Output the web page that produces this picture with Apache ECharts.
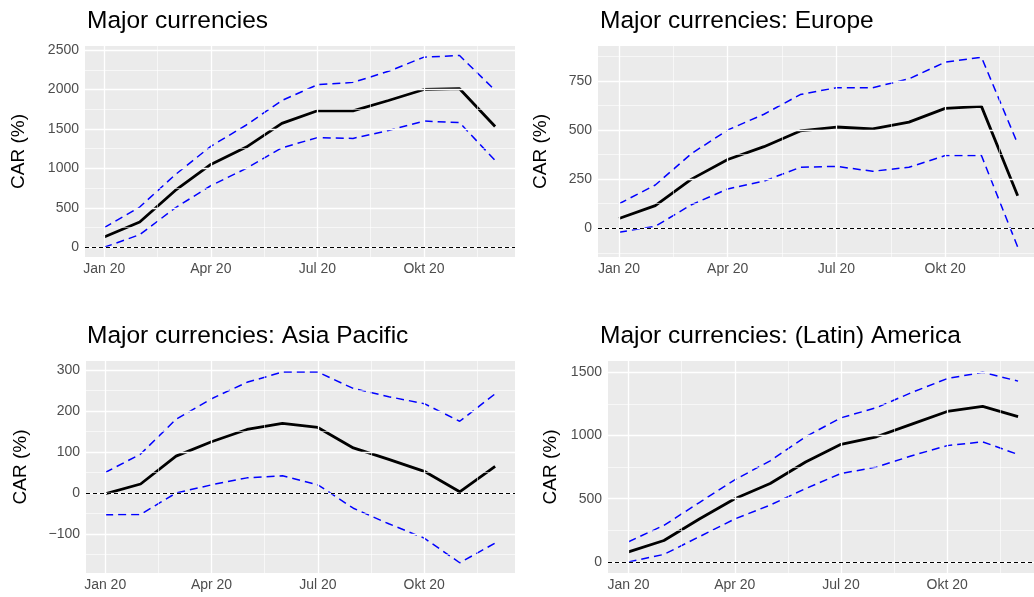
<!DOCTYPE html>
<html><head><meta charset="utf-8">
<script src="https://cdn.jsdelivr.net/npm/echarts@6/dist/echarts.min.js"></script>
<style>html,body{margin:0;background:#fff}#c{width:1034px;height:597px}</style>
</head><body><div id="c"></div>
<script>
// months Jan 20 .. Dec 20, x = month index
var months = [0,1,2,3,4,5,6,7,8,9,10,11];
var xTicks = [0,3,6,9];
var xTickLabels = ['Jan 20','Apr 20','Jul 20','Okt 20'];

var allMean  = [130,320,720,1050,1270,1570,1730,1730,1860,2000,2010,1530];
var allUpper = [250,510,920,1280,1550,1860,2060,2090,2230,2410,2430,1990];
var allLower = [0,160,500,780,1000,1260,1390,1380,1480,1600,1580,1100];

var euMean  = [50,115,250,350,415,495,515,505,540,610,620,165];
var euUpper = [125,220,380,500,580,680,715,715,760,845,870,430];
var euLower = [-20,10,120,200,240,310,315,290,310,370,370,-95];

var apMean  = [-2,22,90,125,155,170,160,110,82,53,3,65];
var apUpper = [50,95,180,230,270,295,295,255,235,218,175,242];
var apLower = [-53,-52,0,20,37,42,20,-37,-75,-110,-170,-122];

var amMean  = [80,170,340,500,620,790,930,990,1090,1190,1230,1150];
var amUpper = [160,290,470,650,800,990,1140,1220,1340,1450,1500,1430];
var amLower = [0,60,200,340,450,580,700,750,840,920,950,850];

var panels = [
  {title:'Major currencies', left:85, width:430, xmin:-0.54, xmax:11.56, top:46, h:211, min:-123, max:2551, ticks:[0,500,1000,1500,2000,2500], mean:allMean, up:allUpper, lo:allLower},
  {title:'Major currencies: Europe', left:598, width:436, xmin:-0.58, xmax:11.45, top:46, h:211, min:-146, max:927, ticks:[0,250,500,750], mean:euMean, up:euUpper, lo:euLower},
  {title:'Major currencies: Asia Pacific', left:86, width:429, xmin:-0.54, xmax:11.56, top:361, h:212, min:-195, max:322, ticks:[-100,0,100,200,300], mean:apMean, up:apUpper, lo:apLower},
  {title:'Major currencies: (Latin) America', left:608, width:426, xmin:-0.58, xmax:11.45, top:361, h:212, min:-87, max:1589, ticks:[0,500,1000,1500], mean:amMean, up:amUpper, lo:amLower}
];

var option = {animation:false, title:[], grid:[], xAxis:[], yAxis:[], series:[]};
var txt = {color:'#4d4d4d', fontSize:14, fontFamily:'Liberation Sans'};

panels.forEach(function (p, i) {
  option.title.push({text:p.title, left:(i % 2 ? 595 : 82), top:p.top - 42,
    textStyle:{fontSize:24.5, fontWeight:'normal', color:'#000', fontFamily:'Liberation Sans'}});
  option.grid.push({left:p.left, top:p.top, width:p.width, height:p.h, show:true, backgroundColor:'#ebebeb', borderWidth:0});
  option.xAxis.push({type:'value', gridIndex:i, min:p.xmin, max:p.xmax,
    axisLine:{show:false}, splitLine:{show:false},
    axisTick:{show:true, customValues:xTicks, length:4, lineStyle:{color:'#333'}},
    axisLabel:Object.assign({customValues:xTicks, margin:5, formatter:function (v) {
      return xTickLabels[xTicks.indexOf(v)] || '';
    }}, txt)});
  var step = p.ticks[1] - p.ticks[0];
  var minor = [];
  p.ticks.forEach(function (t) { minor.push(t - step / 2); });
  minor.push(p.ticks[p.ticks.length - 1] + step / 2);
  option.yAxis.push({type:'value', gridIndex:i, min:p.min, max:p.max,
    name:'CAR (%)', nameLocation:'middle', nameGap:i === 0 ? 57 : (i === 2 ? 56 : 48),
    nameTextStyle:{fontSize:19, color:'#000', fontFamily:'Liberation Sans'},
    axisLine:{show:false}, splitLine:{show:false},
    axisTick:{show:true, customValues:p.ticks, length:4, lineStyle:{color:'#333'}},
    axisLabel:Object.assign({customValues:p.ticks, margin:6, formatter:function (v) {
      return v < 0 ? '\u2212' + (-v) : String(v);
    }}, txt)});
  var gridLines = [];
  minor.forEach(function (v) {
    if (v > p.min && v < p.max) gridLines.push({yAxis:v, lineStyle:{width:0.6}});
  });
  p.ticks.forEach(function (v) { gridLines.push({yAxis:v, lineStyle:{width:1.3}}); });
  [1.5,4.5,7.5,10.5].forEach(function (v) { gridLines.push({xAxis:v, lineStyle:{width:0.6}}); });
  xTicks.forEach(function (v) { gridLines.push({xAxis:v, lineStyle:{width:1.3}}); });
  option.series.push({type:'line', xAxisIndex:i, yAxisIndex:i, data:[], silent:true, z:1,
    markLine:{silent:true, symbol:'none', label:{show:false}, animation:false,
      lineStyle:{color:'#fff', type:'solid'}, data:gridLines.concat([
        {yAxis:0, lineStyle:{color:'#000', type:[4,3], width:1}}])}});
  function xy(arr) { return arr.map(function (v, k) { return [months[k], v]; }); }
  option.series.push({type:'line', xAxisIndex:i, yAxisIndex:i, data:xy(p.up), symbol:'none', z:3,
    lineStyle:{color:'#0000ff', type:[8,5], width:1.5}});
  option.series.push({type:'line', xAxisIndex:i, yAxisIndex:i, data:xy(p.lo), symbol:'none', z:3,
    lineStyle:{color:'#0000ff', type:[8,5], width:1.5}});
  option.series.push({type:'line', xAxisIndex:i, yAxisIndex:i, data:xy(p.mean), symbol:'none', z:4,
    lineStyle:{color:'#000', width:2.8}});
});

echarts.init(document.getElementById('c')).setOption(option);
</script></body></html>
